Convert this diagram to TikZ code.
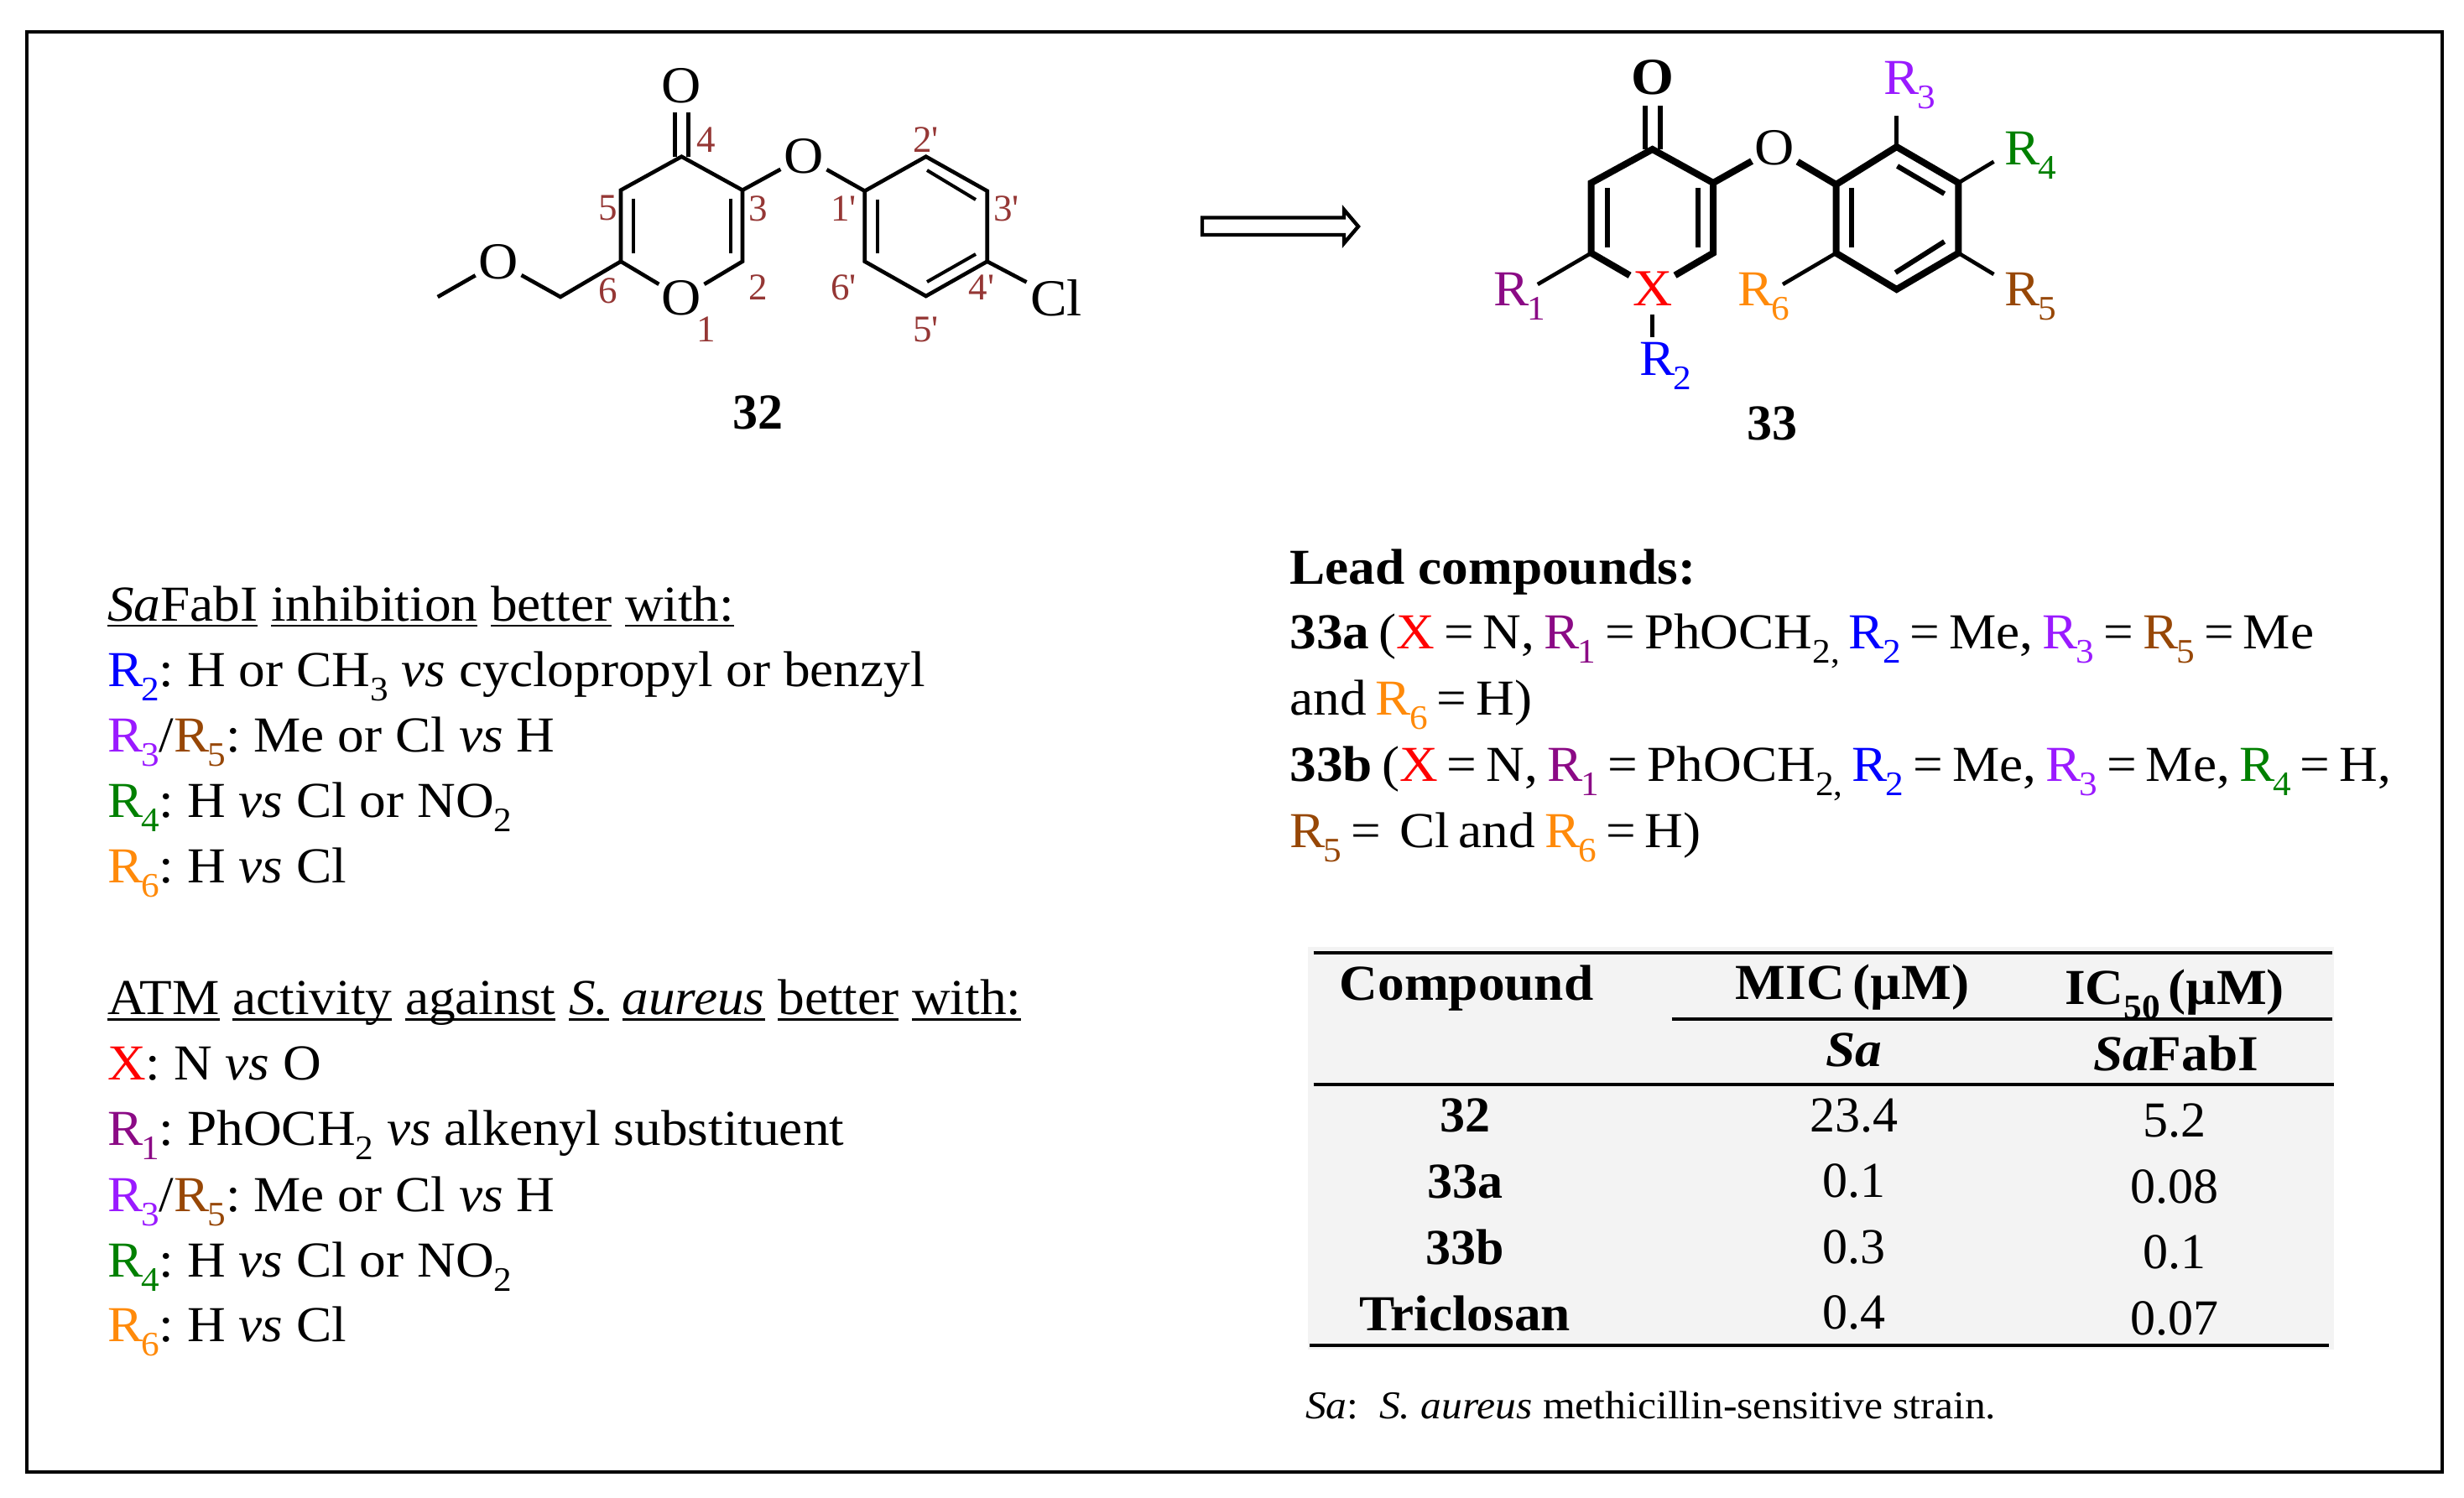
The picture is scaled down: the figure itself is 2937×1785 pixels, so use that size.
\documentclass[tikz,border=0pt]{standalone}
\usepackage{fontspec}
\usepackage{xcolor}
\setmainfont{Liberation Serif}[FakeStretch=1.055]
\newfontfamily\plainfam{Liberation Serif}
\usetikzlibrary{calc}
\frenchspacing
\definecolor{rone}{HTML}{8B0A85}
\definecolor{rtwo}{HTML}{0000FF}
\definecolor{rthree}{HTML}{9A1AFF}
\definecolor{rfour}{HTML}{008000}
\definecolor{rfive}{HTML}{974706}
\definecolor{rsix}{HTML}{FF8A0A}
\definecolor{xred}{HTML}{FF0000}
\definecolor{numred}{HTML}{953735}
\definecolor{tabbg}{HTML}{F3F3F3}
\newcommand\sbs[1]{\raisebox{-8.5pt}{\fontsize{20.5pt}{24pt}\selectfont #1}}
\newcommand\Rq[2]{\textcolor{#1}{R\kern-1pt\sbs{#2}}}
\newcommand\RRo{\Rq{rone}{1}}
\newcommand\RRb{\Rq{rtwo}{2}}
\newcommand\RRc{\Rq{rthree}{3}}
\newcommand\RRd{\Rq{rfour}{4}}
\newcommand\RRe{\Rq{rfive}{5}}
\newcommand\RRf{\Rq{rsix}{6}}
\newcommand\Xr{\textcolor{xred}{X}}
\newcommand\uw[1]{\setbox0\hbox{#1}\rlap{\copy0}\rule[-3.6pt]{\wd0}{1.3pt}}
\newcommand\tightsp{\spaceskip=5.5pt\relax}
\newcommand\headsp{\spaceskip=5pt\relax}
\tikzset{
  txt/.style={anchor=base west,inner sep=0pt,outer sep=0pt,font=\fontsize{30pt}{36pt}\selectfont},
  tight/.style={txt,font=\fontsize{30pt}{36pt}\selectfont\tightsp},
  ctxt/.style={anchor=base,inner sep=0pt,outer sep=0pt,font=\fontsize{30pt}{36pt}\selectfont},
  htxt/.style={ctxt,font=\fontsize{30pt}{36pt}\selectfont\headsp},
  ntxt/.style={anchor=base,inner sep=0pt,outer sep=0pt,font=\fontsize{30pt}{36pt}\plainfam\selectfont},
  foot/.style={anchor=base west,inner sep=0pt,outer sep=0pt,font=\fontsize{23.5pt}{28pt}\selectfont},
  atom/.style={circle,inner sep=0pt,outer sep=0pt,minimum size=30pt,font=\fontsize{31pt}{36pt}\selectfont},
  num/.style={inner sep=0pt,outer sep=0pt,text=numred,font=\fontsize{22.5pt}{26pt}\plainfam\selectfont},
  bondthin/.style={line width=2.3pt},
  bondring/.style={line width=4pt,line join=miter},
  bondinner/.style={line width=3pt},
  rulet/.style={line width=2.4pt}
}
\begin{document}
\begin{tikzpicture}[x=.5pt,y=-.5pt]
\useasboundingbox (0,0) rectangle (2937,1785);
\fill[white] (0,0) rectangle (2937,1785);
\draw[line width=2.3pt] (32,38) rectangle (2911,1755);

% --- molecule 32
\coordinate (aC4) at (812.4,186.7);
\coordinate (aC3) at (885,226.7);
\coordinate (aC5) at (740,226.7);
\coordinate (aC2) at (885,311.7);
\coordinate (aC6) at (740,311.7);
\coordinate (aP1) at (1030.7,227.7);
\coordinate (aP2) at (1103.7,186.7);
\coordinate (aP3) at (1176.7,227.7);
\coordinate (aP4) at (1176.7,311.7);
\coordinate (aP5) at (1103.7,353);
\coordinate (aP6) at (1030.7,311.7);
\coordinate (aCH2) at (668,354);
\coordinate (aCH3) at (521.7,354);
\node[atom] (aO1) at (812.4,355) {O};
\node[atom] (aOc) at (812.4,102.7) {O};
\node[atom] (aOe) at (958,186.7) {O};
\node[atom] (aOm) at (594,312.7) {O};
\node[inner sep=0pt,font=\fontsize{31pt}{36pt}\selectfont] (aCl) at (1259,355) {Cl};
\draw[bondthin] (aO1) -- (aC6) -- (aC5) -- (aC4) -- (aC3) -- (aC2) -- (aO1);
\draw[bondthin] (aCH3) -- (aOm) -- (aCH2) -- (aC6);
\draw[bondthin] (aC3) -- (aOe) -- (aP1) -- (aP2) -- (aP3) -- (aP4) -- (aP5) -- (aP6) -- (aP1);
\draw[bondthin] (aP4) -- ($(aP4)!.57!(aCl)$);
\draw[bondthin] ([xshift=-4pt]aC4) -- ([xshift=-4pt]aOc.south);
\draw[bondthin] ([xshift=4pt]aC4) -- ([xshift=4pt]aOc.south);
\draw[line width=2pt] ($(aC5)+(15,10)$) -- ($(aC6)+(15,-10)$);
\draw[line width=2pt] ($(aC3)+(-14,10)$) -- ($(aC2)+(-14,-10)$);
\draw[line width=2pt] ($(aP1)+(15,10)$) -- ($(aP6)+(15,-10)$);
\draw[line width=2pt] (1105,203) -- (1163,238);
\draw[line width=2pt] (1163,303) -- (1105,336);
\node[num] (n4) at (842,167) {4};
\node[num] (n5) at (724.6,247.7) {5};
\node[num] (n3) at (904,249) {3};
\node[num] (n6) at (724.6,346.7) {6};
\node[num] (n2) at (904,343) {2};
\node[num] (n1) at (842,393) {1};
\node[num] (n2p) at (1103.7,167) {2'};
\node[num] (n1p) at (1005.5,249) {1'};
\node[num] (n3p) at (1199.7,249) {3'};
\node[num] (n6p) at (1005.5,343) {6'};
\node[num] (n4p) at (1170,343) {4'};
\node[num] (n5p) at (1103.7,393) {5'};
\node[ntxt] (lab32) at (903.5,511.5) {\bfseries 32};

% --- arrow
\draw[line width=2.2pt,miter limit=10] (1433,259.5) -- (1602,259.5) -- (1602,250) -- (1619,270) -- (1602,290) -- (1602,280) -- (1433,280) -- cycle;

% --- molecule 33
\coordinate (bC4) at (1969.6,178);
\coordinate (bC3) at (2042,218);
\coordinate (bC5) at (1896.7,218);
\coordinate (bC2) at (2042,301.7);
\coordinate (bC6) at (1896.7,301.7);
\coordinate (bP1) at (2188.5,220);
\coordinate (bP2) at (2260.7,175);
\coordinate (bP3) at (2334.4,218);
\coordinate (bP4) at (2334.4,301.7);
\coordinate (bP5) at (2260.7,345);
\coordinate (bP6) at (2188.5,301.7);
\node[atom,font=\fontsize{31pt}{36pt}\bfseries] (bOc) at (1969.6,92.7) {O};
\node[atom] (bOe) at (2115.5,176.7) {O};
\node[atom,text=xred] (bX) at (1969.6,344) {X};
\coordinate (eR1) at (1832.8,339);
\coordinate (eR2) at (1969.6,401.7);
\coordinate (eR3) at (2260.7,137.7);
\coordinate (eR4) at (2376.5,192.7);
\coordinate (eR5) at (2376.5,327);
\coordinate (eR6) at (2125,339);
\draw[bondring] (bX) -- (bC6) -- (bC5) -- (bC4) -- (bC3) -- (bC2) -- (bX);
\draw[bondring] (bC3) -- (bOe) -- (bP1) -- (bP2) -- (bP3) -- (bP4) -- (bP5) -- (bP6) -- (bP1);
\draw[bondinner] ([xshift=-4.5pt]bC4) -- ([xshift=-4.5pt]bOc.south);
\draw[bondinner] ([xshift=4.5pt]bC4) -- ([xshift=4.5pt]bOc.south);
\draw[bondinner] (1916,224) -- (1916,295);
\draw[bondinner] (2024,224) -- (2024,295);
\draw[bondinner] (2207,224) -- (2207,295);
\draw[bondinner] (2261.5,198) -- (2317.6,231);
\draw[bondinner] (2317.6,288) -- (2259.3,325);
\draw[bondthin] (bC6) -- (eR1);
\draw[bondthin] (bX) -- (eR2);
\draw[bondthin] (bP2) -- (eR3);
\draw[bondthin] (bP3) -- (eR4);
\draw[bondthin] (bP4) -- (eR5);
\draw[bondthin] (bP6) -- (eR6);
\node[txt] (tR1) at (1780,364.3) {\RRo};
\node[txt] (tR2) at (1954,447) {\RRb};
\node[txt] (tR3) at (2245,112.7) {\RRc};
\node[txt] (tR4) at (2389,196.7) {\RRd};
\node[txt] (tR5) at (2389,364.3) {\RRe};
\node[txt] (tR6) at (2071,364.3) {\RRf};
\node[ntxt] (lab33) at (2112,524) {\bfseries 33};

% --- left text
\node[txt] (l1) at (128,740) {\uw{\textit{Sa}FabI} \uw{inhibition} \uw{better} \uw{with:}};
\node[txt] (l2) at (128,818) {\RRb: H or CH\sbs{3} \textit{vs} cyclopropyl or benzyl};
\node[txt] (l3) at (128,896.5) {\RRc/\RRe: Me or Cl \textit{vs} H};
\node[txt] (l4) at (128,974) {\RRd: H \textit{vs} Cl or NO\sbs{2}};
\node[txt] (l5) at (128,1052) {\RRf: H \textit{vs} Cl};
\node[txt] (l6) at (128,1209.5) {\uw{ATM} \uw{activity} \uw{against} \uw{\textit{S.}} \uw{\textit{aureus}} \uw{better} \uw{with:}};
\node[txt] (l7) at (128,1287) {\Xr: N \textit{vs} O};
\node[txt] (l8) at (128,1365) {\RRo: PhOCH\sbs{2} \textit{vs} alkenyl substituent};
\node[txt] (l9) at (128,1444) {\RRc/\RRe: Me or Cl \textit{vs} H};
\node[txt] (l10) at (128,1522.5) {\RRd: H \textit{vs} Cl or NO\sbs{2}};
\node[txt] (l11) at (128,1599) {\RRf: H \textit{vs} Cl};

% --- right text
\node[txt] (r1) at (1537.5,696) {\bfseries Lead compounds:};
\node[tight] (r2) at (1537.5,773) {\textbf{33a} (\Xr{} = N, \RRo{} = PhOCH\sbs{2,} \RRb{} = Me, \RRc{} = \RRe{} = Me};
\node[tight] (r3) at (1537.5,852) {and \RRf{} = H)};
\node[tight] (r4) at (1537.5,931.7) {\textbf{33b} (\Xr{} = N, \RRo{} = PhOCH\sbs{2,} \RRb{} = Me, \RRc{} = Me, \RRd{} = H,};
\node[tight] (r5) at (1537.5,1010.7) {\RRe{} =\ \ Cl and \RRf{} = H)};

% --- table
\fill[tabbg] (1559,1128.5) rectangle (2782,1609);
\coordinate (t1a) at (1565.6,1136);
\coordinate (t1b) at (2780,1136);
\coordinate (t2a) at (1992.5,1215);
\coordinate (t2b) at (2780,1215);
\coordinate (t3a) at (1565.6,1293);
\coordinate (t3b) at (2782,1293);
\coordinate (t4a) at (1561,1604);
\coordinate (t4b) at (2776,1604);
\draw[rulet] (t1a) -- (t1b);
\draw[rulet] (t2a) -- (t2b);
\draw[rulet] (t3a) -- (t3b);
\draw[rulet] (t4a) -- (t4b);
\node[ctxt] (h1) at (1748,1192) {\bfseries Compound};
\node[htxt] (h2) at (2208,1191.7) {\bfseries MIC (µM)};
\node[htxt] (h3) at (2592,1197) {\bfseries IC\sbs{50} (µM)};
\node[ctxt] (h4) at (2210,1271) {\bfseries\itshape Sa};
\node[ctxt] (h5) at (2593.6,1276) {\bfseries\textit{Sa}FabI};
\node[ntxt] (c1) at (1746,1349) {\bfseries 32};
\node[ntxt] (c2) at (1746,1428) {\bfseries 33a};
\node[ntxt] (c3) at (1746,1507) {\bfseries 33b};
\node[ctxt] (c4) at (1746,1586) {\bfseries Triclosan};
\node[ntxt] (m1) at (2210,1349) {23.4};
\node[ntxt] (m2) at (2210,1427) {0.1};
\node[ntxt] (m3) at (2210,1506) {0.3};
\node[ntxt] (m4) at (2210,1584.6) {0.4};
\node[ntxt] (i1) at (2592,1355) {5.2};
\node[ntxt] (i2) at (2592,1434) {0.08};
\node[ntxt] (i3) at (2592,1512) {0.1};
\node[ntxt] (i4) at (2592,1591) {0.07};
\node[foot] (fn) at (1556,1691) {\textit{Sa}:\ \ \textit{S. aureus} methicillin-sensitive strain.};
\end{tikzpicture}
\end{document}
